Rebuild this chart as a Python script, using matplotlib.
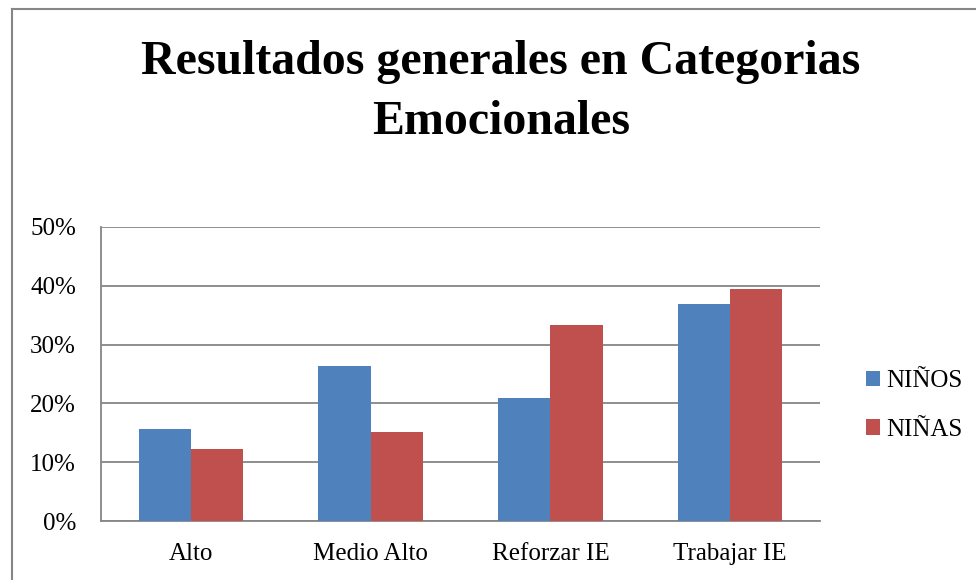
import numpy as np
import matplotlib
matplotlib.use('Agg')
import matplotlib.pyplot as plt
from matplotlib.ticker import PercentFormatter

categories = ['Alto', 'Medio Alto', 'Reforzar IE', 'Trabajar IE']
ninos = [15.7, 26.3, 21.0, 36.9]
ninas = [12.2, 15.2, 33.3, 39.4]
series_names = ['NIÑOS', 'NIÑAS']
yticks = [0, 10, 20, 30, 40, 50]
title_lines = ['Resultados generales en Categorias', 'Emocionales']

plt.rcParams['font.family'] = ['Liberation Serif', 'DejaVu Serif']

W, H = 976, 580
fig = plt.figure(figsize=(W / 100, H / 100), dpi=100)
# plot area in pixels: x 101..820, y 227..521
ax = fig.add_axes([101 / W, 1 - 521 / H, 719 / W, 294 / H])

x = np.arange(len(categories))
w = 0.29
ax.bar(x - w / 2, ninos, w, color='#4F81BD', label=series_names[0], zorder=3)
ax.bar(x + w / 2, ninas, w, color='#C0504D', label=series_names[1], zorder=3)

ax.set_xlim(-0.5, len(categories) - 0.5)
ax.set_ylim(0, 50)
ax.set_yticks(yticks)
ax.yaxis.set_major_formatter(PercentFormatter(decimals=0))
ax.set_xticks(x)
ax.set_xticklabels(categories)
ax.tick_params(axis='x', length=0, labelsize=18, pad=16)
ax.tick_params(axis='y', length=0, labelsize=18, pad=18)

ax.grid(axis='y', color='#868686', linewidth=1.3, zorder=0)
for s in ['top', 'right']:
    ax.spines[s].set_visible(False)
for s in ['left', 'bottom']:
    ax.spines[s].set_color('#868686')
    ax.spines[s].set_linewidth(1.3)

# title, two lines placed by baseline
fig.text(501 / W, 1 - 74 / H, title_lines[0], ha='center', va='baseline',
         fontsize=34.5, fontweight='bold')
fig.text(501 / W, 1 - 134 / H, title_lines[1], ha='center', va='baseline',
         fontsize=34.5, fontweight='bold')

fig.legend(loc='upper left', bbox_to_anchor=(866 / W, 1 - 370 / H), frameon=False,
           fontsize=18, handlelength=0.56, handleheight=0.56, handletextpad=0.25,
           labelspacing=1.07, borderpad=0, borderaxespad=0)

# outer chart border (only top and left visible in the crop)
fig.add_artist(plt.Line2D([11.5 / W, 11.5 / W], [0, 1 - 8.5 / H], color='#868686', lw=1.5))
fig.add_artist(plt.Line2D([11.5 / W, 1], [1 - 8.5 / H, 1 - 8.5 / H], color='#868686', lw=1.5))

fig.savefig('out.png', dpi=100)
